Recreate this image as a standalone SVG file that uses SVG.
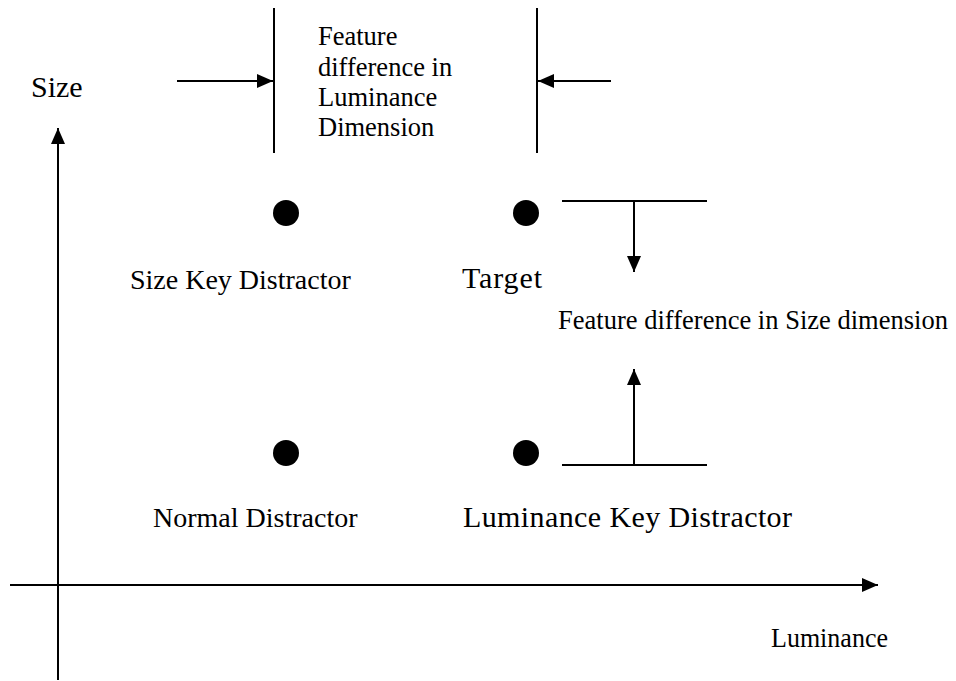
<svg xmlns="http://www.w3.org/2000/svg" width="956" height="681" viewBox="0 0 956 681">
<defs>
<style>
.t{font-family:"Liberation Serif","Times New Roman",serif;fill:#000}
.lab{font-size:28px}
.big{font-size:30px}
.sm{font-size:26.5px}
.ln{stroke:#000;stroke-width:2;fill:none}
.dot{fill:#000}
</style>
<marker id="ah" viewBox="0 0 16 14" refX="16" refY="7" markerWidth="16" markerHeight="14" markerUnits="userSpaceOnUse" orient="auto">
<path d="M0,0 L16,7 L0,14 Z" fill="#000"/>
</marker>
</defs>
<rect width="956" height="681" fill="#fff"/>
<g id="connectors">
<line class="ln" x1="58" y1="680" x2="58" y2="128" marker-end="url(#ah)"/>
<line class="ln" x1="10" y1="585" x2="878" y2="585" marker-end="url(#ah)"/>
<line class="ln" x1="274" y1="8" x2="274" y2="153"/>
<line class="ln" x1="537" y1="8" x2="537" y2="153"/>
<line class="ln" x1="177" y1="81" x2="273" y2="81" marker-end="url(#ah)"/>
<line class="ln" x1="611" y1="81" x2="538" y2="81" marker-end="url(#ah)"/>
<line class="ln" x1="562" y1="201" x2="707" y2="201"/>
<line class="ln" x1="634" y1="201" x2="634" y2="272" marker-end="url(#ah)"/>
<line class="ln" x1="562" y1="465" x2="707" y2="465"/>
<line class="ln" x1="634" y1="465" x2="634" y2="369" marker-end="url(#ah)"/>
</g>
<g id="axis-size"><text class="t big" x="31" y="97">Size</text></g>
<g id="axis-luminance"><text class="t lab" x="771" y="647" textLength="117" lengthAdjust="spacingAndGlyphs">Luminance</text></g>
<g id="size-key-distractor">
<circle class="dot" cx="286" cy="213" r="13"/>
<text class="t lab" x="130" y="289">Size Key Distractor</text>
</g>
<g id="target">
<circle class="dot" cx="526" cy="213" r="13"/>
<text class="t big" x="462" y="288" textLength="80">Target</text>
</g>
<g id="normal-distractor">
<circle class="dot" cx="286" cy="453" r="13"/>
<text class="t lab" x="153" y="527">Normal Distractor</text>
</g>
<g id="luminance-key-distractor">
<circle class="dot" cx="526" cy="453" r="13"/>
<text class="t big" x="463" y="527" textLength="329">Luminance Key Distractor</text>
</g>
<g id="luminance-difference-label">
<text class="t sm" x="318" y="45">Feature</text>
<text class="t sm" x="318" y="75.5">difference in</text>
<text class="t sm" x="318" y="106">Luminance</text>
<text class="t sm" x="318" y="136">Dimension</text>
</g>
<g id="size-difference-label">
<text class="t sm" x="558" y="329" textLength="390">Feature difference in Size dimension</text>
</g>
</svg>
